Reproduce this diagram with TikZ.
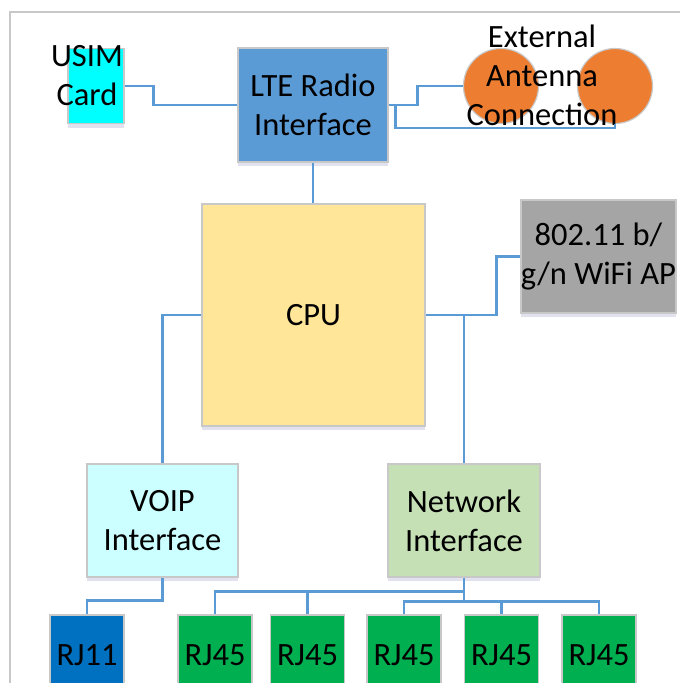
\documentclass[tikz,border=0pt]{standalone}
\usepackage{fontspec}
\setmainfont{Carlito}
\usepackage{tikz}
\usetikzlibrary{shapes,calc,positioning,shadows}

\definecolor{linkblue}{HTML}{5B9BD5}
\definecolor{lteblue}{HTML}{5B9BD5}
\definecolor{simcyan}{HTML}{00FFFF}
\definecolor{antorange}{HTML}{ED7D31}
\definecolor{cpuyellow}{HTML}{FFE699}
\definecolor{wifigray}{HTML}{A5A5A5}
\definecolor{voipcyan}{HTML}{CCFFFF}
\definecolor{netgreen}{HTML}{C5E0B4}
\definecolor{rjblue}{HTML}{0070C0}
\definecolor{rjgreen}{HTML}{00B050}
\definecolor{edgegray}{HTML}{C8C8C8}

\begin{document}
\begin{tikzpicture}[x=1pt, y=-1pt,
font=\fontsize{32.5}{39}\selectfont,
block/.style={draw=edgegray, line width=1.2pt, inner sep=0pt, align=center,
drop shadow={shadow xshift=0pt, shadow yshift=-4pt, fill=blue!25!gray, opacity=.18}},
jack/.style={block, minimum width=74pt, minimum height=80pt},
antenna/.style={circle, draw=edgegray, line width=1.2pt, fill=antorange, minimum size=75pt, inner sep=0pt},
link/.style={draw=linkblue, line width=2.5pt}]

    \useasboundingbox (0,0) rectangle (680,683);
    \draw[edgegray, line width=1.5pt] (10,683) -- (10,12) -- (680,12);

    \node[block, fill=simcyan, minimum width=56pt, minimum height=75pt,
          label={[xshift=-9pt, yshift=10pt, align=center]center:USIM\\Card}] (usim) at (96,86) {};
    \node[block, fill=lteblue, minimum width=150pt, minimum height=114pt] (lte) at (313,105) {LTE Radio\\Interface};
    \node[antenna] (ant1) at (501,86) {};
    \node[antenna] (ant2) at (615,86) {};
    \node[align=center] (anttext) at (542,75) {External\\Antenna\\Connection};

    \node[block, fill=cpuyellow, minimum width=223pt, minimum height=222pt] (cpu) at (313.5,315) {CPU};
    \node[block, fill=wifigray, minimum width=151pt, minimum height=113pt] (wifi) at (598.5,256.5) {802.11 b/\\g/n WiFi AP};

    \node[block, fill=voipcyan, minimum width=151pt, minimum height=113pt] (voip) at (162.5,520.5) {VOIP\\Interface};
    \node[block, fill=netgreen, minimum width=152pt, minimum height=113pt] (net) at (464,520.5) {Network\\Interface};

    \node[jack, fill=rjblue] (rj11) at (87,655) {RJ11};
    \foreach \x [count=\i] in {215,307.5,404,501.5,599}
        \node[jack, fill=rjgreen] (rj\i) at (\x,655) {RJ45};

    % radio side
    \draw[link] (usim.east) -- ++(29,0) |- (lte.west);
    \draw[link] (lte.east) -- ++(29,0) |- (ant1.west);
    \draw[link] (lte.east) -- ++(7,0) |- ([yshift=-4pt]ant2.south) -- (ant2.south);
    \draw[link] (lte.south) -- (lte.south |- cpu.north);

    % cpu links
    \draw[link] (cpu.east) -- ++(71,0) |- (wifi.west);
    \draw[link] (cpu.east -| net.north) -- (net.north);
    \draw[link] (cpu.west) -| (voip.north);

    % jacks
    \draw[link] (voip.south) -- ++(0,23) -| (rj11.north);
    \draw[link] (net.south) -- ++(0,14) coordinate (busA) -| (rj1.north);
    \draw[link] (busA) -| (rj2.north);
    \draw[link] (net.south) -- ++(0,24) coordinate (busB) -| (rj3.north);
    \foreach \i in {4,5}
        \draw[link] (busB) -| (rj\i.north);
    %
\end{tikzpicture}
\end{document}
